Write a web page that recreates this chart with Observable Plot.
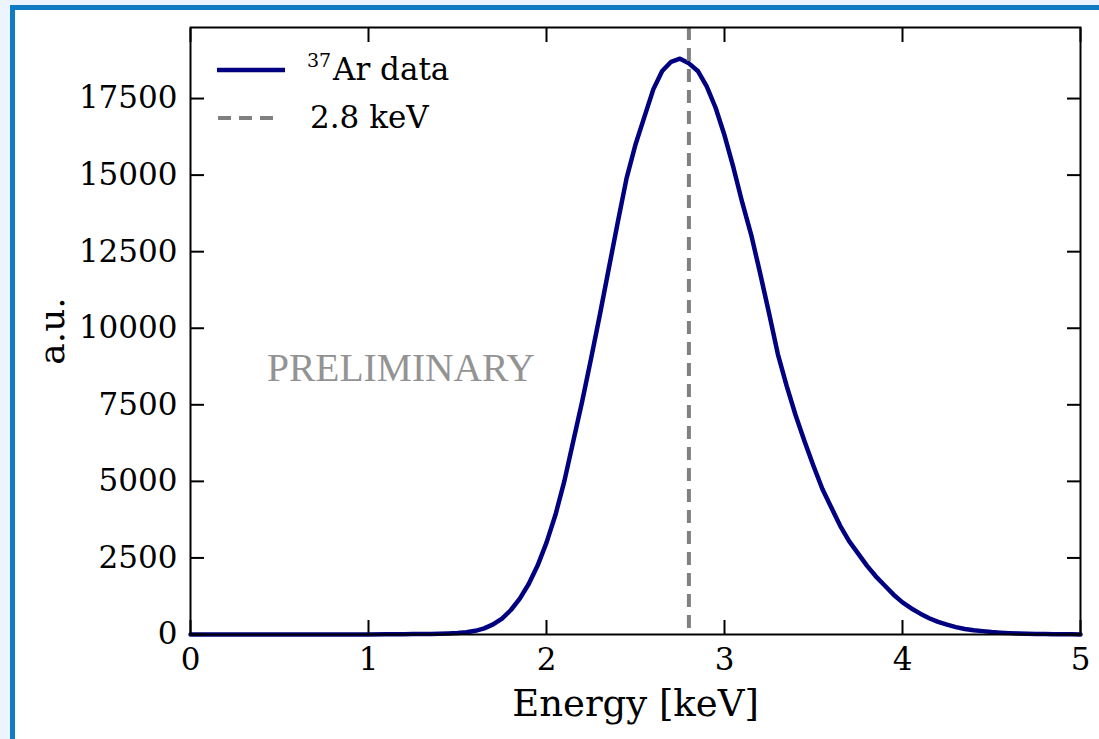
<!DOCTYPE html>
<html>
<head>
<meta charset="utf-8">
<script src="https://cdn.jsdelivr.net/npm/d3@7"></script>
<script src="https://cdn.jsdelivr.net/npm/@observablehq/plot@0.6"></script>
<style>
  html, body { margin: 0; padding: 0; width: 1099px; height: 739px; overflow: hidden; background: #ecf5fd; }
  #card { position: absolute; left: 10px; top: 5px; width: 1200px; height: 800px;
          border-left: 5px solid #0f7bc3; border-top: 5px solid #0f7bc3; background: #ffffff; }
  #chart { position: absolute; left: 0; top: 0; }
  #legend { position: absolute; left: 0; top: 0; pointer-events: none; font-family: 'DejaVu Serif', serif; }
</style>
</head>
<body>
<div id="card"></div>
<div id="chart"></div>
<svg id="legend" width="1099" height="739"></svg>
<script>
// ---- data ----
const energy = [0, 0.5, 1.0, 1.1, 1.2, 1.25, 1.3, 1.35, 1.4, 1.45, 1.5, 1.55, 1.6, 1.65, 1.7, 1.75, 1.8, 1.85, 1.9, 1.95,
  2.0, 2.05, 2.1, 2.15, 2.2, 2.25, 2.3, 2.35, 2.4, 2.45, 2.5, 2.55, 2.6, 2.65, 2.7, 2.75, 2.8, 2.85, 2.9, 2.95,
  3.0, 3.05, 3.1, 3.15, 3.2, 3.25, 3.3, 3.35, 3.4, 3.45, 3.5, 3.55, 3.6, 3.65, 3.7, 3.75, 3.8, 3.85, 3.9, 3.95,
  4.0, 4.05, 4.1, 4.15, 4.2, 4.25, 4.3, 4.35, 4.4, 4.45, 4.5, 4.55, 4.6, 4.65, 4.7, 4.75, 4.8, 4.85, 4.9, 4.95, 5.0];
const counts = [0, 0, 3, 6, 10, 13, 16, 20, 26, 35, 50, 75, 120, 200, 330, 520, 800, 1170, 1650, 2250,
  3000, 3900, 5000, 6300, 7600, 9000, 10450, 11950, 13450, 14900, 16000, 16900, 17800, 18400, 18700, 18800, 18650, 18400, 17900, 17200,
  16300, 15250, 14100, 13050, 11800, 10500, 9150, 8100, 7150, 6300, 5500, 4750, 4150, 3550, 3050, 2650, 2250, 1900, 1600, 1300,
  1050, 850, 680, 530, 410, 320, 240, 180, 140, 110, 80, 60, 45, 35, 25, 20, 15, 10, 8, 5, 3];
const refEnergy = [2.8];
const xTicks = [0, 1, 2, 3, 4, 5];
const yTicks = [0, 2500, 5000, 7500, 10000, 12500, 15000, 17500];
const xDomain = [0, 5];
const yDomain = [0, 19820];
const xLabel = ["Energy [keV]"];
const yLabel = ["a.u."];
const watermark = [{energy: 0.43, count: 8680, text: "PRELIMINARY"}];
const legendLabels = [{sup: "37", main: "Ar data"}, {sup: "", main: "2.8 keV"}];

const data = energy.map((e, i) => ({energy: e, count: counts[i]}));

const plot = Plot.plot({
  width: 1099, height: 739,
  marginLeft: 190, marginRight: 19, marginTop: 27, marginBottom: 105,
  style: {background: "transparent", fontFamily: "'DejaVu Serif', serif", fontSize: "31px", color: "black", overflow: "visible"},
  x: {domain: xDomain},
  y: {domain: yDomain},
  marks: [
    Plot.text(watermark, {x: "energy", y: "count", text: "text", textAnchor: "start", lineAnchor: "middle",
      fontFamily: "'Liberation Serif', serif", fontSize: 39.5, fill: "#939393"}),
    Plot.line(data, {x: "energy", y: "count", stroke: "#000080", strokeWidth: 4.5, strokeLinejoin: "round"}),
    Plot.ruleX(refEnergy, {stroke: "#808080", strokeWidth: 4, strokeDasharray: "13,8"}),
    Plot.frame({stroke: "black", strokeWidth: 2}),
    Plot.axisX(xTicks, {anchor: "bottom", tickSize: 0, tickPadding: 13, label: null, tickFormat: d => String(d)}),
    Plot.axisX(xTicks, {anchor: "bottom", tickSize: 14, dy: -14, fill: "none", label: null, strokeWidth: 2}),
    Plot.axisX(xTicks, {anchor: "top", tickSize: 14, dy: 14, fill: "none", label: null, strokeWidth: 2}),
    Plot.axisY(yTicks, {anchor: "left", tickSize: 0, tickPadding: 13, label: null, tickFormat: d => String(d)}),
    Plot.axisY(yTicks, {anchor: "left", tickSize: 14, dx: 14, fill: "none", label: null, strokeWidth: 2}),
    Plot.axisY(yTicks, {anchor: "right", tickSize: 14, dx: -14, fill: "none", label: null, strokeWidth: 2}),
    Plot.text(xLabel, {text: d => d, frameAnchor: "bottom", dy: 69.5, lineAnchor: "middle", fontSize: 37}),
    Plot.text(yLabel, {text: d => d, frameAnchor: "left", dx: -138, rotate: -90, lineAnchor: "middle", textAnchor: "middle", fontSize: 36})
  ]
});
document.getElementById("chart").appendChild(plot);

// ---- legend (overlay inside the axes, upper left) ----
const svgNS = "http://www.w3.org/2000/svg";
const lg = document.getElementById("legend");
function el(name, attrs) {
  const e = document.createElementNS(svgNS, name);
  for (const k in attrs) e.setAttribute(k, attrs[k]);
  lg.appendChild(e);
  return e;
}
el("line", {x1: 217, x2: 285, y1: 70, y2: 70, stroke: "#000080", "stroke-width": 4.5});
el("line", {x1: 218, x2: 278, y1: 118, y2: 118, stroke: "#808080", "stroke-width": 4, "stroke-dasharray": "13,8"});
const t1 = el("text", {x: 307, y: 80, "font-size": 31, fill: "black"});
const s1 = document.createElementNS(svgNS, "tspan");
s1.setAttribute("font-size", 19); s1.setAttribute("dy", -13); s1.textContent = legendLabels[0].sup;
const m1 = document.createElementNS(svgNS, "tspan");
m1.setAttribute("x", 333); m1.setAttribute("dy", 13); m1.textContent = legendLabels[0].main;
t1.appendChild(s1); t1.appendChild(m1);
const t2 = el("text", {x: 310, y: 128, "font-size": 31, fill: "black"});
t2.textContent = legendLabels[1].main;
</script>
</body>
</html>
